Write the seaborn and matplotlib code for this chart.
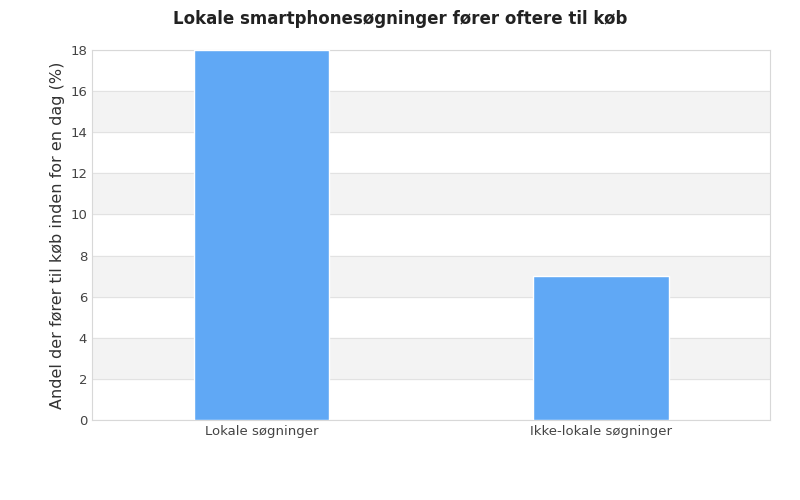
import matplotlib
matplotlib.use("Agg")
import matplotlib.pyplot as plt
import seaborn as sns
import pandas as pd

categories = ["Lokale søgninger", "Ikke-lokale søgninger"]
values = [18, 7]
yticks = [0, 2, 4, 6, 8, 10, 12, 14, 16, 18]

sns.set_style("white")
plt.rcParams['font.family'] = ['DejaVu Sans']
fig = plt.figure(figsize=(8, 5), dpi=100)
ax = fig.add_axes([0.115, 0.16, 0.848, 0.74])
df = pd.DataFrame({"cat": categories, "val": values})
sns.barplot(data=df, x="cat", y="val", color="#60a8f5", saturation=1, width=0.4, ax=ax, zorder=3)
for lo in yticks[1::2][:-1]:
    ax.axhspan(lo, lo + 2, color="#f3f3f3", zorder=0)
for t in yticks:
    ax.axhline(t, color="#e2e2e2", lw=0.8, zorder=1)
ax.set_ylim(0, 18)
ax.set_xlim(-0.5, 1.5)
ax.set_yticks(yticks)
ax.tick_params(axis='both', labelsize=9.5, colors="#444444", length=0)
ax.set_xlabel("")
ax.set_ylabel("Andel der fører til køb inden for en dag (%)", fontsize=11.5, color="#333333")
for s in ax.spines.values():
    s.set_color("#d8d8d8")
fig.suptitle("Lokale smartphonesøgninger fører oftere til køb", x=0.5, y=0.98, fontsize=12, fontweight="bold", color="#222222")
fig.savefig("out.png")
